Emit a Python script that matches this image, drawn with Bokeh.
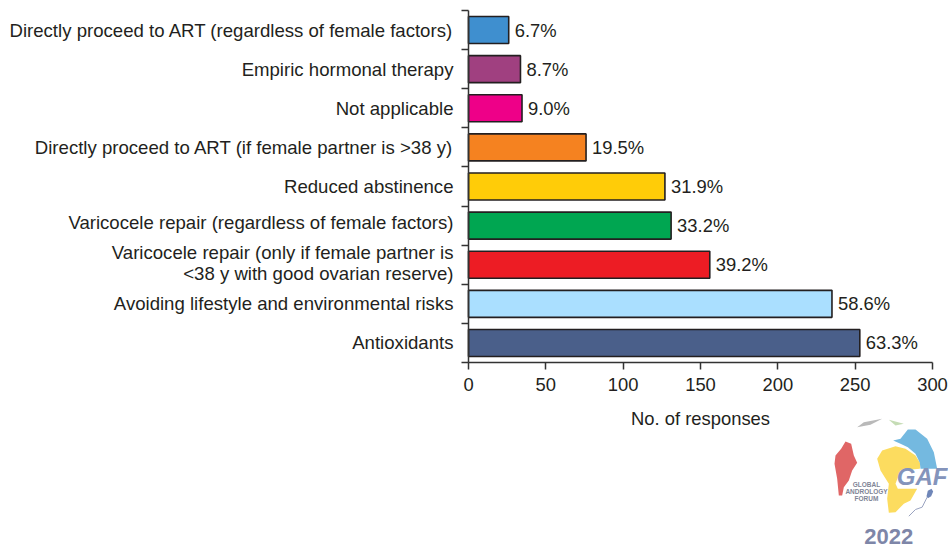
from bokeh.plotting import figure
from bokeh.models import Range1d, FixedTicker, ColumnDataSource
from bokeh.core.properties import value
from bokeh.embed import file_html
from bokeh.resources import INLINE

categories = ["Antioxidants", "Avoiding lifestyle and environmental risks",
              "Varicocele repair (only if female partner is\n<38 y with good ovarian reserve)",
              "Varicocele repair (regardless of female factors)", "Reduced abstinence",
              "Directly proceed to ART (if female partner is >38 y)", "Not applicable",
              "Empiric hormonal therapy", "Directly proceed to ART (regardless of female factors)"]
responses = [253, 235, 156, 131, 127, 76, 34.6, 33.6, 26]
percent_labels = ["63.3%", "58.6%", "39.2%", "33.2%", "31.9%", "19.5%", "9.0%", "8.7%", "6.7%"]
bar_colors = ["#4a5f8a", "#aadfff", "#ed1c24", "#00a651", "#ffcc08", "#f58220", "#ee0088", "#a04080", "#3f8fcf"]
x_ticks = [0, 50, 100, 150, 200, 250, 300]

FONT = "Liberation Sans"
INK = "#231f20"
W, H = 948, 549
X0, Y_TOP, Y0 = 468, 10, 362          # page pixels of x=0, top of axis, y=0
XPX = 464 / 300
YPX = (Y0 - Y_TOP) / len(categories)

p = figure(width=W, height=H, output_backend="svg", toolbar_location=None,
           x_range=Range1d(-X0 / XPX, (W - X0) / XPX),
           y_range=Range1d(-(H - Y0) / YPX, Y0 / YPX),
           frame_width=W, frame_height=H,
           min_border_left=0, min_border_right=0, min_border_top=0, min_border_bottom=0,
           outline_line_color=None)
p.grid.visible = False

centers = [i + 0.5 for i in range(len(categories))]
edges = list(range(len(categories) + 1))
src = ColumnDataSource(dict(y=centers, right=responses, color=bar_colors, label=percent_labels))
p.hbar(y="y", left=0, right="right", height=0.69, fill_color="color",
       line_color=INK, line_width=1.6, source=src)
p.text(x="right", y="y", text="label", x_offset=6, text_baseline="middle", text_align="left",
       text_font=value(FONT), text_font_size="18.4px", text_color=INK, source=src)

ax = p.xaxis[0]
ax.fixed_location = 0
ax.bounds = (0, 300)
ax.ticker = FixedTicker(ticks=x_ticks)
ax.axis_label = "No. of responses"
ax.axis_label_text_font = FONT
ax.axis_label_text_font_style = "normal"
ax.axis_label_text_font_size = "18.4px"
ax.axis_label_text_color = INK
ax.axis_label_standoff = 14
ax.major_label_text_font = FONT
ax.major_label_text_font_size = "18.4px"
ax.major_label_text_color = INK
ax.major_label_standoff = 8
ax.major_tick_out = 7
ax.major_tick_in = 0
ax.minor_tick_line_color = None
ax.axis_line_color = "#333333"
ax.axis_line_width = 1.5
ax.major_tick_line_color = "#333333"
ax.major_tick_line_width = 1.5

# Label positions: the two-line label becomes two tightly spaced ticks with no visible mark
overrides = {}
for c, t in zip(centers, categories):
    lines = t.split("\n")
    if len(lines) == 2:
        overrides[c + 12 / YPX] = lines[0]
        overrides[c - 9 / YPX] = lines[1]
    elif t.endswith("(regardless of female factors)") and t.startswith("Varicocele"):
        overrides[c + 3.5 / YPX] = t
    else:
        overrides[c] = t

ay = p.yaxis[0]
ay.fixed_location = 0
ay.bounds = (0, len(categories))
ay.ticker = FixedTicker(ticks=list(overrides), minor_ticks=edges)
ay.major_label_overrides = overrides
ay.major_label_text_font = FONT
ay.major_label_text_font_size = "18.6px"
ay.major_label_text_color = INK
ay.major_label_standoff = 8
ay.major_tick_out = 0
ay.major_tick_in = 0
ay.minor_tick_out = 7
ay.minor_tick_in = 0
ay.minor_tick_line_color = "#333333"
ay.minor_tick_line_width = 1.5
ay.axis_line_color = "#333333"
ay.axis_line_width = 1.5

# Logo decoration, traced in 3x crop pixels (crop origin 820,405) and mapped to data units
logo_shapes = [
    ("#e06666", [(75,108),(92,115),(100,150),(110,172),(95,195),(85,225),(70,245),(65,270),(55,270),(50,220),(42,175),(45,150),(62,130)]),
    ("#fcdc5f", [(170,160),(185,135),(225,122),(255,130),(285,150),(300,175),(298,190),(240,195),(225,235),(232,250),(290,250),(270,285),(250,295),(225,320),(205,322),(200,280),(205,235),(180,195)]),
    ("#74b9e0", [(218,105),(240,100),(262,72),(285,72),(320,100),(340,140),(350,190),(300,190),(298,172),(285,145),(262,125),(240,115)]),
    ("#b9b9b9", [(110,65),(130,50),(185,40),(150,58)]),
    ("#c5dcb5", [(205,43),(250,55),(225,60)]),
    ("#6f86b8", [(318,272),(322,256),(333,250),(338,258),(332,272),(322,278)]),
]
sperm_tail = [(320,275),(305,305),(285,312),(265,332)]
def lx(v): return (820 + v / 3 - X0) / XPX
def ly(v): return (Y0 - (405 + v / 3)) / YPX
for color, pts in logo_shapes:
    p.patch([lx(a) for a, _ in pts], [ly(b) for _, b in pts], fill_color=color, line_color=None)
p.line([lx(a) for a, _ in sperm_tail], [ly(b) for _, b in sperm_tail], line_color="#9aa3c0", line_width=1)
def logo_text(text, x, y, size, color, style="bold", **kw):
    p.text([x], [y], text=[text], text_font=value(FONT), text_font_size=size, text_font_style=style,
           text_color=color, text_align="center", text_baseline="middle", **kw)
logo_text("GLOBAL", lx(138), ly(236), "6.5px", "#7f8596")
logo_text("ANDROLOGY", lx(138), ly(258), "6.5px", "#7f8596")
logo_text("FORUM", lx(138), ly(280), "6.5px", "#7f8596")
logo_text("GAF", lx(305), ly(214), "24px", "#8494bb", "bold italic")
logo_text("2022", lx(205), ly(394), "22px", "#7e86a8")

open("out.html", "w").write(file_html(p, INLINE))
